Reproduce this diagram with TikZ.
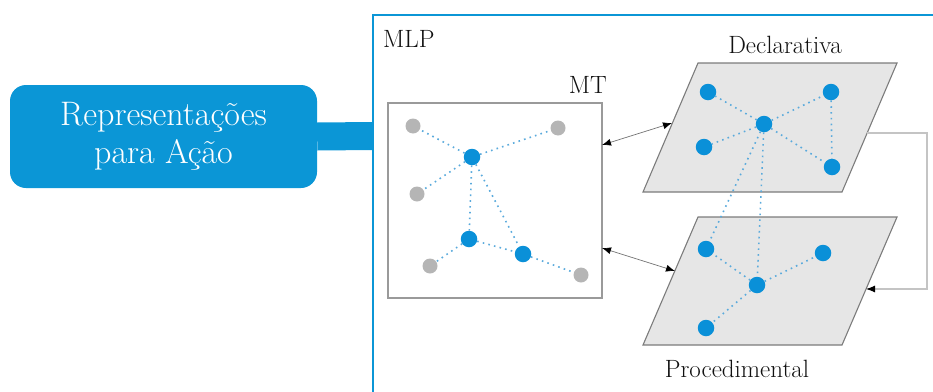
\documentclass[tikz,border=0pt]{standalone}
\usetikzlibrary{arrows.meta}
\definecolor{boxblue}{HTML}{0B96D6}
\definecolor{dotblue}{HTML}{0A90D8}
\definecolor{edgeblue}{HTML}{5AAADC}
\definecolor{dotgray}{HTML}{B5B5B5}
\definecolor{planefill}{HTML}{E6E6E6}
\definecolor{planeline}{HTML}{7C7C7C}
\definecolor{mtline}{HTML}{9A9A9A}
\definecolor{loopline}{HTML}{C4C4C4}
\definecolor{txt}{HTML}{111111}
\tikzset{
  bdot/.style={circle,fill=dotblue,minimum size=16.5pt,inner sep=0pt},
  gdot/.style={circle,fill=dotgray,minimum size=15pt,inner sep=0pt},
  dotedge/.style={draw=edgeblue,line width=1.6pt,dash pattern=on 1.6pt off 4.2pt},
  plane/.style={fill=planefill,draw=planeline,line width=1.1pt},
  dbl/.style={draw=black!55,line width=0.7pt,{Latex[length=9pt,width=7pt,black]}-{Latex[length=9pt,width=7pt,black]}},
  lbl/.style={text=txt,font=\fontsize{25}{30}\selectfont,inner sep=0pt},
}
\begin{document}
\begin{tikzpicture}[x=1pt,y=-1pt]
\useasboundingbox (0,0) rectangle (933,391);
% frame
\coordinate (frTop) at (373,15);
\coordinate (frJoin) at (373,136);
\draw[boxblue,line width=2.6pt] (373,400) -- (frTop) -- (945,15);
% left box and connector
\node[fill=boxblue,rounded corners=16pt,minimum width=307pt,minimum height=103pt,inner sep=0pt,
      text=white,align=center,font=\fontsize{34}{38}\selectfont] (rep) at (163.5,136.5)
      {Representações\\para Ação};
\draw[boxblue,line width=28pt] (rep.east) -- (frJoin);
% labels
\node[lbl,anchor=base west] (mlp) at (383,47) {MLP};
\node[lbl,anchor=base east] (mtl) at (607,93) {MT};
\node[lbl,anchor=base] (decl) at (785,53) {Declarativa};
\node[lbl,anchor=base] (proc) at (737,377) {Procedimental};
% MT box
\node[draw=mtline,line width=1.4pt,minimum width=214pt,minimum height=195pt,inner sep=0pt] (mt) at (495,200.5) {};
% planes
\draw[plane] (643,192) -- (842,192) -- (897,63) -- (698,63) -- cycle;
\draw[plane] (643,345) -- (842,345) -- (897,217) -- (698,217) -- cycle;
% connector end points
\coordinate (mtA) at (602,145);
\coordinate (dA) at (672,123);
\coordinate (mtB) at (602,248);
\coordinate (pB) at (675,271);
\coordinate (dR) at (867,133);
\coordinate (pR) at (866,289);
\draw[dbl] (mtA) -- (dA);
\draw[dbl] (mtB) -- (pB);
\draw[loopline,line width=1.1pt,-{Latex[length=9pt,width=7pt,black]}] (dR) -- (927,133) -- (927,289) -- (pR);
% MT dots
\node[gdot] (g1) at (413,126) {};
\node[gdot] (g2) at (558,128) {};
\node[bdot] (b1) at (472,157) {};
\node[gdot] (g3) at (417,194) {};
\node[bdot] (b2) at (469,239) {};
\node[bdot] (b3) at (523,254) {};
\node[gdot] (g4) at (430,266) {};
\node[gdot] (g5) at (581,275) {};
% Declarativa dots
\node[bdot] (d1) at (708,92) {};
\node[bdot] (d2) at (831,92) {};
\node[bdot] (dc) at (764,124) {};
\node[bdot] (d4) at (704,147) {};
\node[bdot] (d5) at (832,167) {};
% Procedimental dots
\node[bdot] (p1) at (706,249) {};
\node[bdot] (p2) at (823,253) {};
\node[bdot] (pc) at (757,285) {};
\node[bdot] (p4) at (706,328) {};
% edges
\draw[dotedge] (b1) -- (g1);
\draw[dotedge] (b1) -- (g2);
\draw[dotedge] (b1) -- (g3);
\draw[dotedge] (b1) -- (b2);
\draw[dotedge] (b1) -- (b3);
\draw[dotedge] (b2) -- (b3);
\draw[dotedge] (b2) -- (g4);
\draw[dotedge] (b3) -- (g5);
\draw[dotedge] (dc) -- (d1);
\draw[dotedge] (dc) -- (d2);
\draw[dotedge] (dc) -- (d4);
\draw[dotedge] (dc) -- (d5);
\draw[dotedge] (d2) -- (d5);
\draw[dotedge] (dc) -- (p1);
\draw[dotedge] (dc) -- (pc);
\draw[dotedge] (pc) -- (p1);
\draw[dotedge] (pc) -- (p2);
\draw[dotedge] (pc) -- (p4);
\end{tikzpicture}
\end{document}
